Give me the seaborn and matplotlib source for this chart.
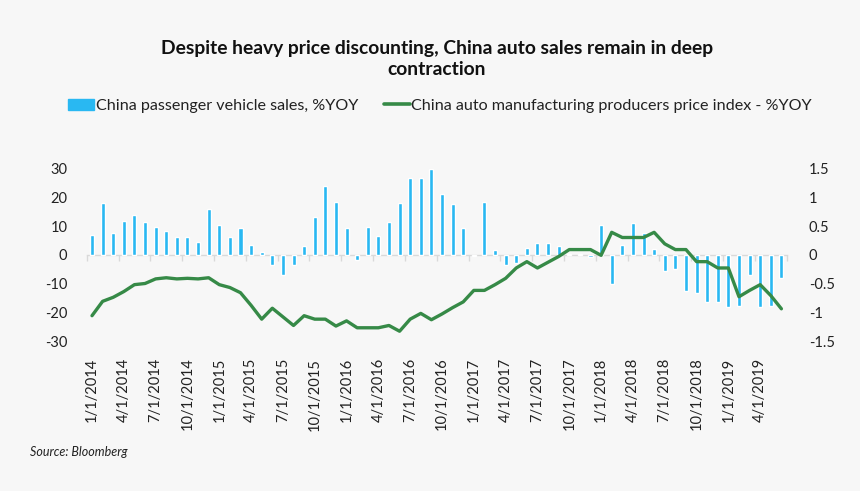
import numpy as np
import pandas as pd
import matplotlib
matplotlib.use("Agg")
import matplotlib.pyplot as plt
import matplotlib.patches as mpatches
from matplotlib.lines import Line2D
import seaborn as sns

# ---------------- data ----------------
months = pd.date_range("2014-01-01", periods=66, freq="MS")
month_labels = [f"{d.month}/1/{d.year}" for d in months]

sales_yoy = [
    6.7, 18.0, 7.7, 11.6, 13.7, 11.4, 9.7, 8.4, 6.3, 6.3, 4.4, 15.8,          # 2014
    10.3, 6.3, 9.2, 3.4, 0.8, -3.7, -6.9, -3.7, 3.0, 13.3, 23.8, 18.4,        # 2015
    9.2, -1.7, 9.7, 6.4, 11.3, 18.0, 26.6, 26.6, 29.7, 21.0, 17.8, 9.2,       # 2016
    -0.5, 18.5, 1.6, -3.5, -2.7, 2.3, 4.2, 4.2, 3.0, 0.2, 0.1, -0.8,          # 2017
    10.5, -10.1, 3.3, 10.9, 7.7, 2.1, -5.6, -5.0, -12.6, -13.4, -16.5, -16.4, # 2018
    -18.3, -17.9, -7.2, -18.3, -17.9, -8.1,                                   # 2019
]

ppi_yoy = [
    -1.06, -0.81, -0.74, -0.64, -0.52, -0.50, -0.42, -0.40, -0.42, -0.41, -0.42, -0.40,
    -0.52, -0.57, -0.66, -0.88, -1.12, -0.93, -1.08, -1.23, -1.06, -1.12, -1.12, -1.24,
    -1.15, -1.27, -1.27, -1.27, -1.23, -1.33, -1.12, -1.02, -1.13, -1.03, -0.92, -0.82,
    -0.62, -0.62, -0.52, -0.41, -0.23, -0.12, -0.23, -0.13, -0.03, 0.09, 0.09, 0.09,
    -0.01, 0.39, 0.30, 0.30, 0.30, 0.39, 0.19, 0.09, 0.09, -0.12, -0.12, -0.23,
    -0.23, -0.73, -0.62, -0.52, -0.71, -0.94,
]

left_ticks = [30, 20, 10, 0, -10, -20, -30]
right_ticks = [1.5, 1, 0.5, 0, -0.5, -1, -1.5]
right_tick_labels = ["1.5", "1", "0.5", "0", "-0.5", "-1", "-1.5"]

title = "Despite heavy price discounting, China auto sales remain in deep\ncontraction"
bar_label = "China passenger vehicle sales, %YOY"
line_label = "China auto manufacturing producers price index - %YOY"
source = "Source: Bloomberg"

df = pd.DataFrame({
    "month": month_labels,
    "pos": np.arange(len(month_labels)),
    "sales": sales_yoy,
    "ppi": ppi_yoy,
})

# ---------------- style ----------------
BG = "#f7f7f7"
BLUE = "#29b8f2"
GREEN = "#368a47"
TXT = "#222222"

sns.set_style("white")
plt.rcParams["font.family"] = ["Lato", "DejaVu Sans"]
plt.rcParams["text.color"] = TXT

fig = plt.figure(figsize=(8.6, 4.91), dpi=100, facecolor=BG)
W, H = 860, 491
ax_left, ax_right, ax_top, ax_bot = 86.7, 786.7, 168.5, 341.0
ax = fig.add_axes([ax_left / W, 1 - ax_bot / H, (ax_right - ax_left) / W, (ax_bot - ax_top) / H])
ax.set_facecolor(BG)

sns.barplot(data=df, x="month", y="sales", color=BLUE, width=0.38,
            saturation=1, ax=ax, zorder=3)
ax.set_xlim(-0.5, len(df) - 0.5)
ax.set_ylim(-30, 30)
ax.set_yticks(left_ticks)
ax.set_yticklabels([str(t) for t in left_ticks])
ax.set_xticks(range(0, len(df), 3))
ax.set_xticklabels(month_labels[::3], rotation=90, va="top", ha="center")
ax.tick_params(axis="x", length=0, pad=12, labelsize=10.5, colors=TXT)
ax.tick_params(axis="y", length=0, pad=14, labelsize=10.5, colors=TXT)
ax.set_xlabel("")
ax.set_ylabel("")
for s in ax.spines.values():
    s.set_visible(False)

# zero axis line with quarter tick marks
sec = ax.secondary_xaxis(0, transform=ax.transData)
sec.set_xticks(np.arange(-0.5, len(df), 3))
sec.set_xticklabels([])
sec.tick_params(axis="x", direction="out", length=4, width=1, colors="#d9d9d9")
sec.spines["bottom"].set_color("#d9d9d9")
sec.spines["bottom"].set_linewidth(1)
sec.set_zorder(0)

ax2 = ax.twinx()
sns.lineplot(data=df, x="pos", y="ppi", color=GREEN, linewidth=2.4, ax=ax2)
ax2.set_xlim(-0.5, len(df) - 0.5)
ax2.set_ylim(-1.5, 1.5)
ax2.set_yticks(right_ticks)
ax2.set_yticklabels(right_tick_labels)
ax2.tick_params(axis="y", length=0, pad=16, labelsize=10.5, colors=TXT)
ax2.set_xlabel("")
ax2.set_ylabel("")
for s in ax2.spines.values():
    s.set_visible(False)

# title
fig.text(437 / W, 1 - 40 / H, title, ha="center", va="top", fontsize=13.9,
         fontweight="bold", linespacing=1.32, color="#111111")

# legend
handles = [mpatches.Patch(color=BLUE, label=bar_label),
           Line2D([], [], color=GREEN, linewidth=2.6, label=line_label)]
fig.legend(handles=handles, loc="center", bbox_to_anchor=(440 / W, 1 - 106 / H),
           ncol=2, frameon=False, fontsize=11.6, handlelength=1.6,
           handletextpad=0.12, columnspacing=1.6, borderaxespad=0)

fig.text(30 / W, 1 - 452 / H, source, ha="left", va="center", fontsize=9,
         style="italic", color=TXT)

fig.savefig("out.png", dpi=100, facecolor=BG)
